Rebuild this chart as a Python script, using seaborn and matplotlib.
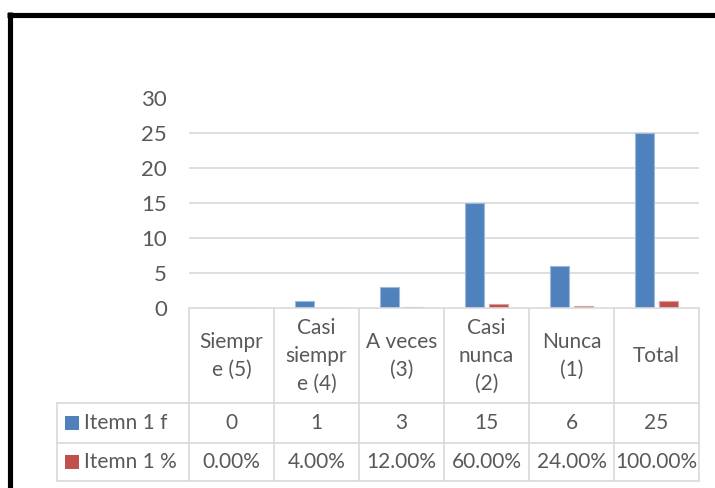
import matplotlib
matplotlib.use("Agg")
import matplotlib.pyplot as plt
import matplotlib.colors as mcolors
import seaborn as sns
import pandas as pd
from matplotlib.transforms import blended_transform_factory
from matplotlib.lines import Line2D
from matplotlib.patches import Rectangle

# ---- data ----
categories = ["Siempr\ne (5)", "Casi\nsiempr\ne (4)", "A veces\n(3)",
              "Casi\nnunca\n(2)", "Nunca\n(1)", "Total"]
series_names = ["Itemn 1 f", "Itemn 1 %"]
freq = [0, 1, 3, 15, 6, 25]
pct = [0.00, 0.04, 0.12, 0.60, 0.24, 1.00]
freq_labels = [str(v) for v in freq]
pct_labels = [f"{v * 100:.2f}%" for v in pct]
y_ticks = [0, 5, 10, 15, 20, 25, 30]

colors = ["#4F81BD", "#C0504D"]
grid_color = "#D9D9D9"
text_color = "#595959"

sns.set_theme(style="white")
plt.rcParams["font.family"] = ["Lato", "DejaVu Sans"]
FS = 15
FS_TICK = 16

W, H = 715, 488
fig = plt.figure(figsize=(W / 100, H / 100), dpi=100)
fig.patch.set_facecolor("white")


def fx(px):
    return px / W


def fy(py):
    return 1 - py / H


# plot area
X0, X1, YTOP, YBOT = 189, 699, 98.5, 308
ax = fig.add_axes([fx(X0), fy(YBOT), fx(X1) - fx(X0), fy(YTOP) - fy(YBOT)])

df = pd.DataFrame({
    "cat": list(range(len(categories))) * 2,
    "series": [series_names[0]] * len(freq) + [series_names[1]] * len(pct),
    "value": freq + pct,
})
df["cat"] = df["cat"].astype(str)

sns.barplot(data=df, x="cat", y="value", hue="series", hue_order=series_names,
            palette=colors, width=0.565, gap=0.21, ax=ax, legend=False,
            linewidth=0.8, saturation=1)

for p in ax.patches:
    fc = mcolors.to_rgb(p.get_facecolor())
    light = tuple(c + (1 - c) * 0.45 for c in fc)
    p.set_edgecolor(light)

ax.set_xlim(-0.5, len(categories) - 0.5)
ax.set_ylim(0, 30)
ax.set_yticks(y_ticks)
ax.set_yticklabels([str(t) for t in y_ticks])
ax.set_xticks([])
ax.set_xlabel("")
ax.set_ylabel("")
for s in ax.spines.values():
    s.set_visible(False)
ax.tick_params(axis="y", length=0, pad=16, labelsize=FS_TICK, labelcolor=text_color)
for t in y_ticks[1:]:
    ax.axhline(t, color=grid_color, lw=1.2, zorder=0)
ax.set_axisbelow(True)

# ---- data table below the plot ----
tr = blended_transform_factory(ax.transData, fig.transFigure)
LBL_X0 = 57
R_HEAD_BOT, R1_BOT, R2_BOT = 403, 443, 481
lw = 1.2


def hline(y, xa, xb):
    fig.add_artist(Line2D([fx(xa), fx(xb)], [fy(y), fy(y)], color=grid_color, lw=lw))


def vline(x, ya, yb):
    fig.add_artist(Line2D([fx(x), fx(x)], [fy(ya), fy(yb)], color=grid_color, lw=lw))


hline(YBOT, X0, X1)
for y in (R_HEAD_BOT, R1_BOT, R2_BOT):
    hline(y, LBL_X0, X1)
col_w = (X1 - X0) / len(categories)
for i in range(len(categories) + 1):
    vline(X0 + i * col_w, YBOT, R2_BOT)
vline(LBL_X0, R_HEAD_BOT, R2_BOT)

# header cells
for i, c in enumerate(categories):
    ax.text(i, fy((YBOT + R_HEAD_BOT) / 2), c, transform=tr, ha="center", va="center",
            multialignment="center", fontsize=FS, color=text_color, linespacing=1.5)

row_centers = [(R_HEAD_BOT + R1_BOT) / 2, (R1_BOT + R2_BOT) / 2]
for r, (labels, name, col) in enumerate(zip([freq_labels, pct_labels], series_names, colors)):
    yc = row_centers[r]
    for i, lab in enumerate(labels):
        ax.text(i, fy(yc), lab, transform=tr, ha="center", va="center",
                fontsize=FS, color=text_color)
    fig.add_artist(Rectangle((fx(65), fy(yc + 7)), fx(14), 14 / H,
                             facecolor=col, edgecolor="none", transform=fig.transFigure))
    fig.text(fx(84), fy(yc), name, ha="left", va="center", fontsize=FS, color=text_color)

# outer frame
fig.add_artist(Line2D([fx(9.5), fx(9.5)], [0, fy(12)], color="black", lw=3.7,
                      solid_capstyle="butt"))
fig.add_artist(Line2D([fx(7), 1], [fy(14.5), fy(14.5)], color="black", lw=3.7,
                      solid_capstyle="butt"))

fig.savefig("out.png", dpi=100, facecolor="white")
